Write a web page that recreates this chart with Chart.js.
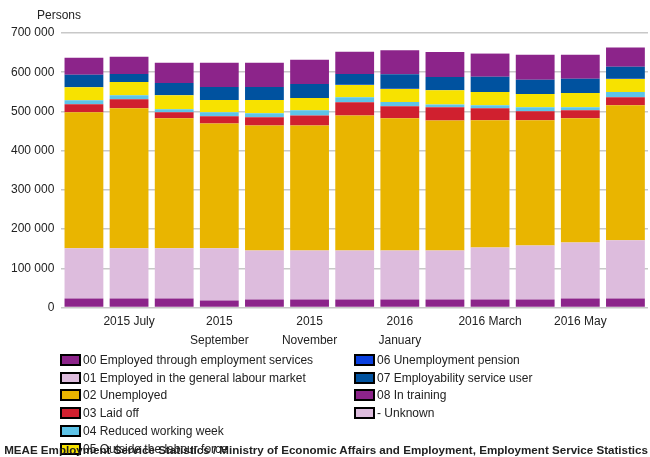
<!DOCTYPE html>
<html>
<head>
<meta charset="utf-8">
<script src="https://cdn.jsdelivr.net/npm/chart.js@4"></script>
<style>
body { margin: 0; background: #fff; font-family: "Liberation Sans", Arial, sans-serif; }
#wrap { position: relative; width: 650px; height: 457px; overflow: hidden; }
#chartBox { position: absolute; left: 0; top: 0; width: 650px; height: 354px; }
#unit { position: absolute; left: 37px; top: 8px; font-size: 12px; color: #222; }
#legend { position: absolute; left: 60px; top: 351px; display: grid; grid-template-rows: repeat(6, 17.8px);
  grid-auto-flow: column; grid-template-columns: 294px 290px; font-size: 12px; color: #222; }
.item { display: flex; align-items: center; white-space: nowrap; }
.box { width: 17px; height: 8px; border: 2px solid #000; margin-right: 2px; }
#source { position: absolute; right: 2px; top: 443px; font-size: 11.6px; font-weight: bold; color: #222; white-space: nowrap; }
</style>
</head>
<body>
<div id="wrap">
  <div id="chartBox"><canvas id="myChart"></canvas></div>
  <div id="unit">Persons</div>
  <div id="legend"></div>
  <div id="source">MEAE Employment Service Statistics / Ministry of Economic Affairs and Employment, Employment Service Statistics</div>
</div>
<script>
var categories = ['2015 June', '2015 July', '2015 August', '2015 September', '2015 October', '2015 November', '2015 December',
    '2016 January', '2016 February', '2016 March', '2016 April', '2016 May', '2016 June'];
var tickLabels = ['', '2015 July', '', ['2015', 'September'], '', ['2015', 'November'], '',
    ['2016', 'January'], '', '2016 March', '', '2016 May', ''];

var seriesNames = ['00 Employed through employment services', '01 Employed in the general labour market', '02 Unemployed',
    '03 Laid off', '04 Reduced working week', '05 Outside the labour force', '06 Unemployment pension',
    '07 Employability service user', '08 In training', '- Unknown'];
var seriesColors = ['#8c248a', '#ddbcdd', '#e9b500', '#d0202f', '#5ec4e8', '#f7e200', '#0a40e0', '#00529f', '#8c248a', '#ddbcdd'];

var employedServices = [23000, 23000, 23000, 18000, 20500, 20500, 20500, 20500, 20500, 20500, 20500, 23000, 23000];
var employedGeneral = [128000, 128000, 128000, 133000, 125000, 125000, 125000, 125000, 125000, 133000, 138000, 143000, 148500];
var unemployed = [347000, 357000, 331500, 318500, 319000, 319000, 344500, 337000, 331500, 324000, 319000, 316500, 344500];
var laidOff = [20500, 23000, 15500, 18000, 20500, 25500, 33500, 31000, 33500, 30500, 23000, 20500, 20500];
var reducedWeek = [10000, 10500, 7500, 10500, 10500, 13000, 13000, 10500, 7500, 8000, 10500, 8000, 13000];
var outsideLabour = [33000, 33500, 36000, 31000, 33500, 31000, 31000, 33500, 36000, 33500, 33500, 36000, 33500];
var unemploymentPension = [300, 300, 300, 300, 300, 300, 300, 300, 300, 300, 300, 300, 300];
var employability = [32000, 20500, 31000, 33000, 33000, 36000, 28000, 37000, 33500, 38500, 36000, 36000, 30500];
var inTraining = [43000, 43500, 51500, 62000, 62000, 61500, 56500, 61000, 64000, 59000, 64000, 61500, 49000];
var unknown = [0, 0, 0, 0, 0, 0, 0, 0, 0, 1500, 0, 0, 0];

var allSeries = [employedServices, employedGeneral, unemployed, laidOff, reducedWeek, outsideLabour,
    unemploymentPension, employability, inTraining, unknown];

function fmt(v) {
    return String(v).replace(/\B(?=(\d{3})+(?!\d))/g, ' ');
}

var datasets = [];
for (var i = 0; i < allSeries.length; i++) {
    datasets.push({
        label: seriesNames[i],
        data: allSeries[i],
        backgroundColor: seriesColors[i],
        borderWidth: 0,
        barPercentage: 0.86,
        categoryPercentage: 1
    });
}

var ctx = document.getElementById('myChart').getContext('2d');
var myChart = new Chart(ctx, {
    type: 'bar',
    data: { labels: categories, datasets: datasets },
    options: {
        responsive: true,
        maintainAspectRatio: false,
        animation: false,
        layout: { padding: { top: 33, right: 2, left: 4, bottom: 0 } },
        plugins: { legend: { display: false }, tooltip: { enabled: false } },
        scales: {
            x: {
                stacked: true,
                grid: { display: false, drawTicks: false },
                border: { display: false },
                ticks: {
                    autoSkip: false,
                    maxRotation: 0,
                    color: '#222',
                    font: { family: 'Liberation Sans', size: 12, lineHeight: 1.6 },
                    padding: 4,
                    callback: function (v, idx) { return tickLabels[idx]; }
                }
            },
            y: {
                stacked: true,
                min: 0,
                max: 700000,
                border: { display: false },
                grid: { color: '#c8c8c8', lineWidth: 1.5, drawTicks: false },
                ticks: {
                    stepSize: 100000,
                    padding: 7,
                    color: '#222',
                    font: { family: 'Liberation Sans', size: 12 },
                    callback: function (v) { return fmt(v); }
                }
            }
        }
    }
});

var legend = document.getElementById('legend');
for (var j = 0; j < seriesNames.length; j++) {
    var item = document.createElement('div');
    item.className = 'item';
    item.innerHTML = '<span class="box" style="background:' + seriesColors[j] + '"></span>' + seriesNames[j];
    legend.appendChild(item);
}
</script>
</body>
</html>
